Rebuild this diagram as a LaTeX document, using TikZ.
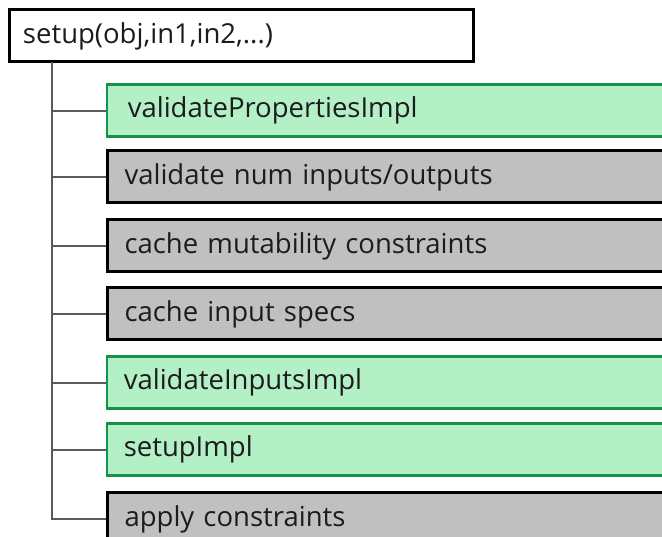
\documentclass[tikz,border=0pt]{standalone}
\usepackage{fontspec}
\setmainfont{Open Sans}
\definecolor{greenfill}{HTML}{B3F0C6}
\definecolor{greenline}{HTML}{12944A}
\definecolor{greyfill}{HTML}{C0C0C0}
\definecolor{connline}{HTML}{5A5A5A}
\definecolor{txt}{HTML}{1C1C1C}
\begin{document}
\begin{tikzpicture}[x=1pt,y=-1pt,
  lbl/.style={font=\fontsize{27.5}{31}\selectfont, text=txt, anchor=north west,
    minimum height=52pt, inner ysep=0pt, align=left},
  topbox/.style={lbl, draw=black, fill=white, line width=3pt, text width=450pt, inner xsep=14pt},
  greybox/.style={lbl, draw=black, fill=greyfill, line width=3pt, text width=540pt, inner xsep=17pt},
  greenbox/.style={lbl, draw=greenline, fill=greenfill, line width=2.5pt, text width=540pt, inner xsep=17pt},
  conn/.style={draw=connline, line width=2pt}]
\useasboundingbox (0,0) rectangle (662,537);
\clip (0,0) rectangle (662,537);
\node[topbox, text width=436pt] (top) at (7.5,8.5) {setup(obj,in1,in2,...)};
\node[greenbox, inner xsep=21pt, text width=532pt] (b1) at (105.5,83.5) {validatePropertiesImpl};
\node[greybox] (b2) at (106,149.5) {validate num inputs/outputs};
\node[greybox] (b3) at (106,218.5) {cache mutability constraints};
\node[greybox] (b4) at (106,286.5) {cache input specs};
\node[greenbox] (b5) at (105.5,355.5) {validateInputsImpl};
\node[greenbox] (b6) at (105.5,422.5) {setupImpl};
\node[greybox] (b7) at (106,491.5) {apply constraints};
\coordinate (trunk) at (52,62);
\draw[conn] (trunk) -- (trunk |- b7.west) -- (b7.west);
\foreach \b in {b1,b2,b3,b4,b5,b6}{
  \draw[conn] (trunk |- \b.west) -- (\b.west);
}
\end{tikzpicture}
\end{document}
